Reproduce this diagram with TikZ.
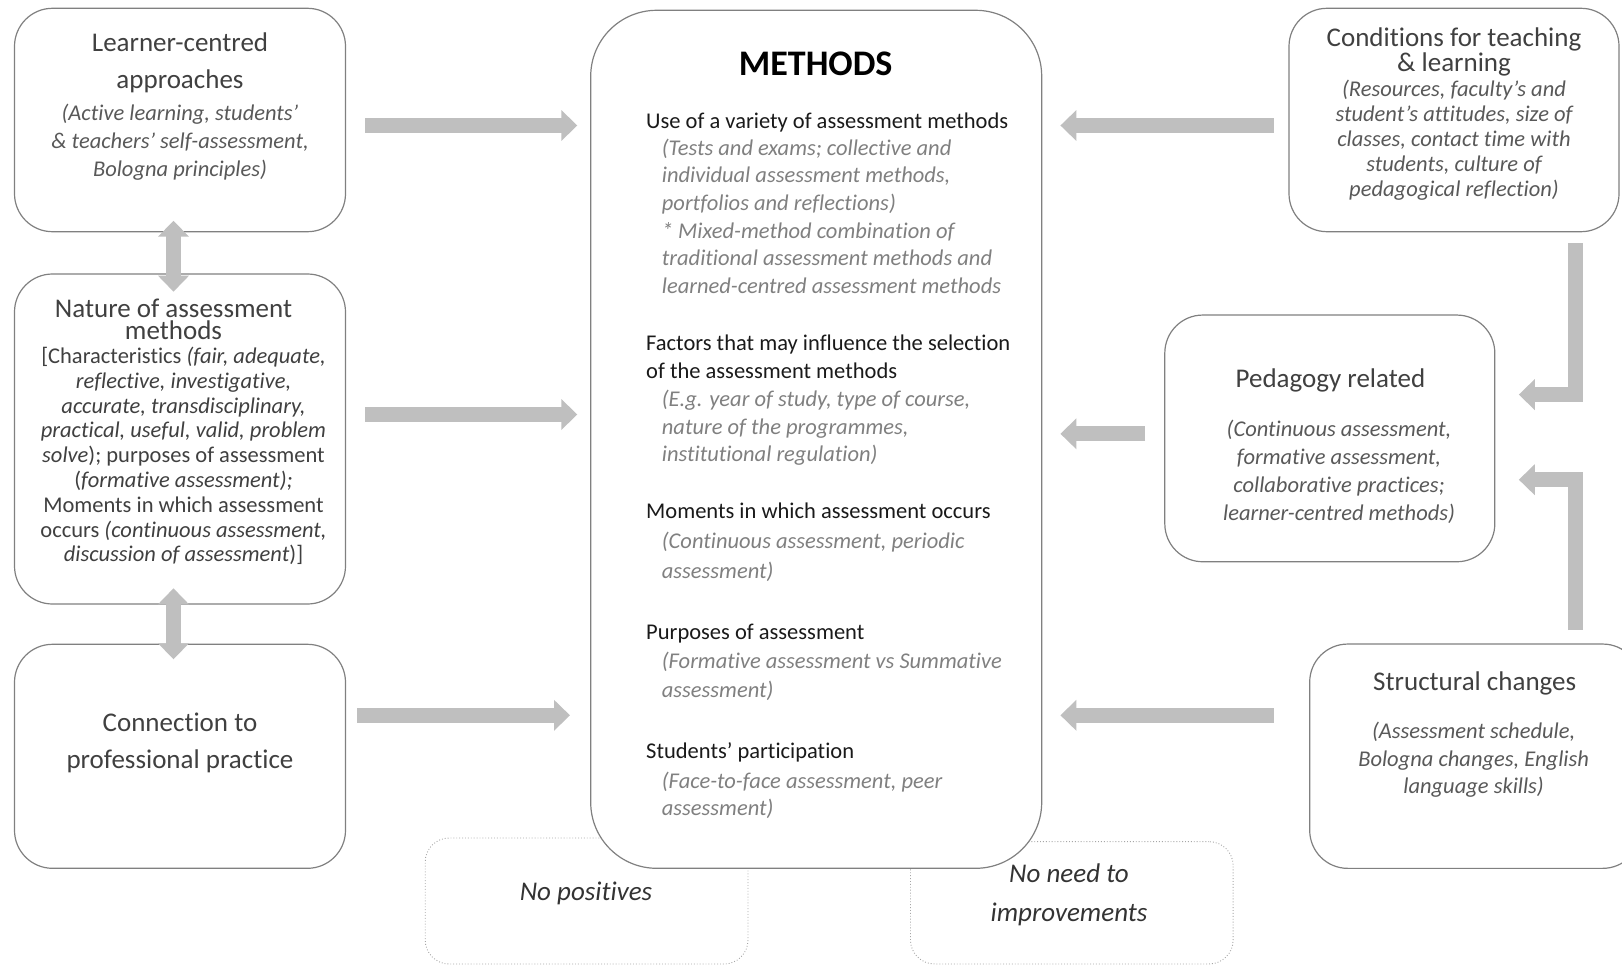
\documentclass[tikz,border=0pt]{standalone}
\usepackage{fontspec}
\setmainfont{Carlito}[Ligatures={NoCommon}, RawFeature={-calt}]
\usetikzlibrary{arrows.meta}
\definecolor{edgegray}{HTML}{808080}
\definecolor{arrowgray}{HTML}{BFBFBF}
\definecolor{headgray}{HTML}{404040}
\definecolor{notegray}{HTML}{595959}
\definecolor{methnote}{HTML}{808080}
\definecolor{methhead}{HTML}{1A1A1A}
\definecolor{dotgray}{HTML}{A6A6A6}
\newcommand{\fs}[2]{\fontsize{#1}{#2}\selectfont}
\newcommand{\firstline}{\rule{0pt}{0.85em}}
\begin{document}
\begin{tikzpicture}[x=1pt,y=-1pt,
  box/.style={draw=edgegray, line width=1.2pt, fill=white, rounded corners=38pt, inner sep=0pt},
  bigbox/.style={box, rounded corners=66pt},
  dotbox/.style={draw=dotgray, dotted, line width=0.9pt, rounded corners=24pt, inner sep=0pt},
  tip/.tip={Triangle[width=30pt,length=16pt]},
  flow/.style={draw=arrowgray, line width=15pt, -tip},
  twoway/.style={draw=arrowgray, line width=15pt, tip-tip},
  elbow/.style={flow, line join=miter},
  title/.style={inner sep=0pt, anchor=north, align=center, text=headgray, font=\fs{27}{36.6}},
  note/.style={inner sep=0pt, anchor=north, align=center, text=notegray, font=\fs{22.5}{28}\itshape},
  mhead/.style={inner sep=0pt, anchor=north west, align=left, text=methhead, font=\fs{22.5}{28.3}},
  mnote/.style={inner sep=0pt, anchor=north west, align=left, text=methnote, font=\fs{22.5}{27.6}\itshape},
  nothing/.style={inner sep=0pt, anchor=north, align=center, text=headgray!80!black, font=\fs{27}{39}\itshape}
]
\useasboundingbox (0,0) rectangle (1622,966);
\clip (0,0) rectangle (1622,966);

% dotted boxes sit behind the central box
\node[dotbox, minimum width=322.8pt, minimum height=126pt] (nopos) at (586.6,901) {};
\node[dotbox, minimum width=322.7pt, minimum height=122.3pt] (noneed) at (1071.8,902.8) {};

% central box
\node[bigbox, minimum width=451pt, minimum height=858pt] (methods) at (816.2,439.3) {};

% left column
\node[box, minimum width=331pt, minimum height=223.4pt] (learner) at (180,120) {};
\node[box, minimum width=331pt, minimum height=330pt] (nature) at (180,439) {};
\node[box, minimum width=331pt, minimum height=224pt] (practice) at (180,756.3) {};

% right column
\node[box, minimum width=330pt, minimum height=223.4pt] (conditions) at (1454,120) {};
\node[box, minimum width=330pt, minimum height=246.7pt] (pedagogy) at (1329.8,438.4) {};
\node[box, minimum width=331pt, minimum height=224.3pt] (structural) at (1475.2,756.2) {};

% arrow end points
\coordinate (a1s) at (365.2,125.5);   \coordinate (a1e) at (577.3,125.5);
\coordinate (a2s) at (365.2,414.5);   \coordinate (a2e) at (577.3,414.5);
\coordinate (a3s) at (357,715.3);     \coordinate (a3e) at (570,715.3);
\coordinate (a4s) at (1273.8,125.5);  \coordinate (a4e) at (1060.4,125.5);
\coordinate (a5s) at (1145.2,433.8);  \coordinate (a5e) at (1060.4,433.8);
\coordinate (a6s) at (1273.8,715.3);  \coordinate (a6e) at (1060.4,715.3);
\coordinate (d1s) at (173.5,220.7);   \coordinate (d1e) at (173.5,291.7);
\coordinate (d2s) at (173.5,588.3);   \coordinate (d2e) at (173.5,659.3);
\coordinate (e1s) at (1575,243.3);    \coordinate (e1c) at (1575,394.6);  \coordinate (e1e) at (1518.8,394.6);
\coordinate (e2s) at (1575.4,630);    \coordinate (e2c) at (1575.4,479.7); \coordinate (e2e) at (1518.8,479.7);

\draw[flow] (a1s) -- (a1e);
\draw[flow] (a2s) -- (a2e);
\draw[flow] (a3s) -- (a3e);
\draw[flow] (a4s) -- (a4e);
\draw[flow] (a5s) -- (a5e);
\draw[flow] (a6s) -- (a6e);
\draw[twoway] (d1s) -- (d1e);
\draw[twoway] (d2s) -- (d2e);
\draw[elbow] (e1s) -- (e1c) -- (e1e);
\draw[elbow] (e2s) -- (e2c) -- (e2e);

% left column texts
\node[title] (learnerT) at (180,28.75) {\firstline Learner-centred\\approaches};
\node[note] (learnerN) at (180,100.9) {\firstline(Active learning, students’\\\& teachers’ self-assessment,\\Bologna principles)};

\node[title] (natureT) at (173.5,294.35) {\firstline Nature of assessment};
\node[title, anchor=base] (natureT2) at (173.5,339) {methods};
\node[note, text=headgray, font=\fs{22.5}{24.8}] (natureN) at (183.5,344.2)
  {\firstline[Characteristics \textit{(fair, adequate,}\\
   \textit{reflective, investigative,}\\
   \textit{accurate, transdisciplinary,}\\
   \textit{practical, useful, valid, problem}\\
   \textit{solve}); purposes of assessment\\
   (\textit{formative assessment);}\\
   Moments in which assessment\\
   occurs \textit{(continuous assessment,}\\
   \textit{discussion of assessment})]};

\node[title] (practiceT) at (180,708.75) {\firstline Connection to\\professional practice};

% central texts
\node[inner sep=0pt, anchor=north, font=\fs{36}{40}\bfseries] (methodsT) at (815.7,44.4) {\rule{0pt}{0.85em}METHODS};

\node[mhead] (h1) at (646,108.9) {\firstline Use of a variety of assessment methods};
\node[mnote] (n1) at (661.7,135.9) {\firstline(Tests and exams; collective and\\individual assessment methods,\\portfolios and reflections)\\* Mixed-method combination of\\traditional assessment methods and\\learned-centred assessment methods};

\node[mhead] (h2) at (646,330.9) {\firstline Factors that may influence the selection\\of the assessment methods};
\node[mnote, font=\fs{22.5}{27.5}\itshape] (n2) at (661.7,387.6) {\firstline(E.g. year of study, type of course,\\nature of the programmes,\\institutional regulation)};

\node[mhead] (h3) at (646,499.2) {\firstline Moments in which assessment occurs};
\node[mnote, font=\fs{22.5}{30}\itshape] (n3) at (661.7,529.2) {\firstline(Continuous assessment, periodic\\assessment)};

\node[mhead] (h4) at (646,620.2) {\firstline Purposes of assessment};
\node[mnote, font=\fs{22.5}{29}\itshape] (n4) at (661.7,649.2) {\firstline(Formative assessment vs Summative\\assessment)};

\node[mhead] (h5) at (646,739.2) {\firstline Students’ participation};
\node[mnote, font=\fs{22.5}{27}\itshape] (n5) at (661.7,769.2) {\firstline(Face-to-face assessment, peer\\assessment)};

% right column texts
\node[title, font=\fs{27}{25}] (conditionsT) at (1454,23.75) {\firstline Conditions for teaching\\\& learning};
\node[note, font=\fs{22.5}{25}\itshape] (conditionsN) at (1454,77.6) {\firstline(Resources, faculty’s and\\student’s attitudes, size of\\classes, contact time with\\students, culture of\\pedagogical reflection)};

\node[title] (pedagogyT) at (1330.4,364.35) {\firstline Pedagogy related};
\node[note, font=\fs{22.5}{27.8}\itshape] (pedagogyN) at (1339,417.6) {\firstline(Continuous assessment,\\formative assessment,\\collaborative practices;\\learner-centred methods)};

\node[title] (structuralT) at (1474.7,667) {\firstline Structural changes};
\node[note, font=\fs{22.5}{27.5}\itshape] (structuralN) at (1473.6,719.2) {\firstline(Assessment schedule,\\Bologna changes, English\\language skills)};

% bottom notes
\node[nothing] (noposT) at (586,877) {\firstline No positives};
\node[nothing] (noneedT) at (1069,859.75) {\firstline No need to\\improvements};
\end{tikzpicture}
\end{document}
